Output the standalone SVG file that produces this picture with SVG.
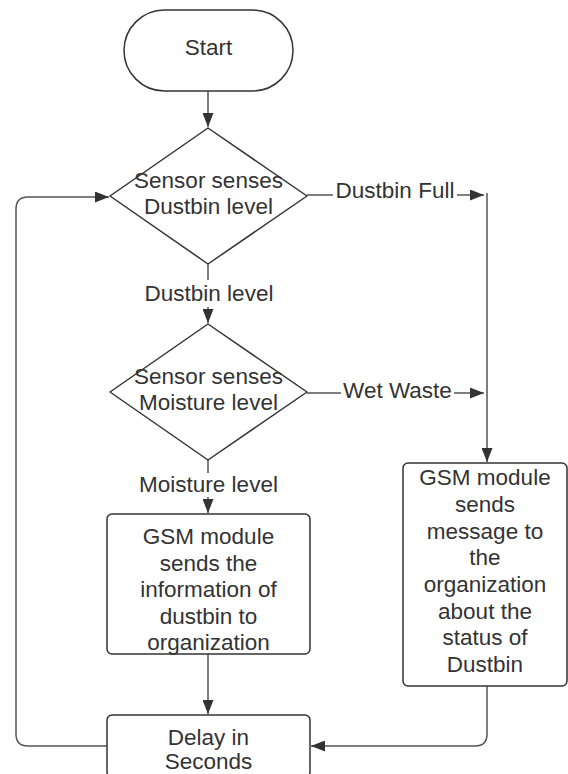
<svg xmlns="http://www.w3.org/2000/svg" width="568" height="774" viewBox="0 0 568 774">
<style>
.shape{fill:#fff;stroke:#333;stroke-width:1.5;stroke-linejoin:round}
.t{font-family:"Liberation Sans",Arial,sans-serif;font-size:22.5px;fill:#333;text-anchor:middle}
.c{fill:none;stroke:#555;stroke-width:1.5}
.lbg{fill:#fff;stroke:none}
</style>
<defs>
<marker id="ah" markerWidth="14" markerHeight="11" refX="14" refY="5.5" orient="auto" markerUnits="userSpaceOnUse">
<path d="M0,0 L14,5.5 L0,11 z" fill="#333"/>
</marker>
</defs>
<rect width="568" height="774" fill="#fff"/>
<g id="connectors">
<path class="c" d="M208,91 V127" marker-end="url(#ah)"/>
<path class="c" d="M307,195 H484" marker-end="url(#ah)"/>
<path class="c" d="M487,193 V462" marker-end="url(#ah)"/>
<path class="c" d="M208,264 V323" marker-end="url(#ah)"/>
<path class="c" d="M307,393 H484" marker-end="url(#ah)"/>
<path class="c" d="M208,460 V513" marker-end="url(#ah)"/>
<path class="c" d="M208,654 V714" marker-end="url(#ah)"/>
<path class="c" d="M487,686 V734 Q487,746 475,746 H311" marker-end="url(#ah)"/>
<path class="c" d="M107,746 H28 Q16,746 16,734 V209 Q16,197 28,197 H109" marker-end="url(#ah)"/>
<rect class="lbg" x="333" y="181" width="124" height="22"/>
<text class="t" x="395" y="198">Dustbin Full</text>
<rect class="lbg" x="341" y="379" width="113" height="24"/>
<text class="t" x="397.5" y="398">Wet Waste</text>
<rect class="lbg" x="140" y="280" width="138" height="27"/>
<text class="t" x="209" y="301">Dustbin level</text>
<rect class="lbg" x="136" y="473" width="145" height="24"/>
<text class="t" x="208.5" y="492">Moisture level</text>
</g>
<g id="start">
<rect class="shape" x="124" y="10" width="169" height="81" rx="40.5"/>
<text class="t" x="208.5" y="55">Start</text>
</g>
<g id="decision-dustbin">
<path class="shape" d="M208,128 L307,196 L208,264 L110,196 Z"/>
<text class="t" x="208.5" y="188">Sensor senses</text>
<text class="t" x="208.5" y="214">Dustbin level</text>
</g>
<g id="decision-moisture">
<path class="shape" d="M208,324 L307,392 L208,460 L110,392 Z"/>
<text class="t" x="208.5" y="384">Sensor senses</text>
<text class="t" x="208.5" y="410">Moisture level</text>
</g>
<g id="gsm-info">
<rect class="shape" x="107" y="514" width="203" height="140" rx="5"/>
<text class="t" x="208.5" y="544">GSM module</text>
<text class="t" x="208.5" y="570.5">sends the</text>
<text class="t" x="208.5" y="597">information of</text>
<text class="t" x="208.5" y="623.5">dustbin to</text>
<text class="t" x="208.5" y="650">organization</text>
</g>
<g id="gsm-message">
<rect class="shape" x="403" y="463" width="164" height="223" rx="5"/>
<text class="t" x="485" y="485">GSM module</text>
<text class="t" x="485" y="512">sends</text>
<text class="t" x="485" y="538.5">message to</text>
<text class="t" x="485" y="565">the</text>
<text class="t" x="485" y="592">organization</text>
<text class="t" x="485" y="619">about the</text>
<text class="t" x="485" y="645">status of</text>
<text class="t" x="485" y="672">Dustbin</text>
</g>
<g id="delay">
<rect class="shape" x="107" y="715" width="203" height="62" rx="5"/>
<text class="t" x="208.5" y="745">Delay in</text>
<text class="t" x="208.5" y="769">Seconds</text>
</g>
</svg>
